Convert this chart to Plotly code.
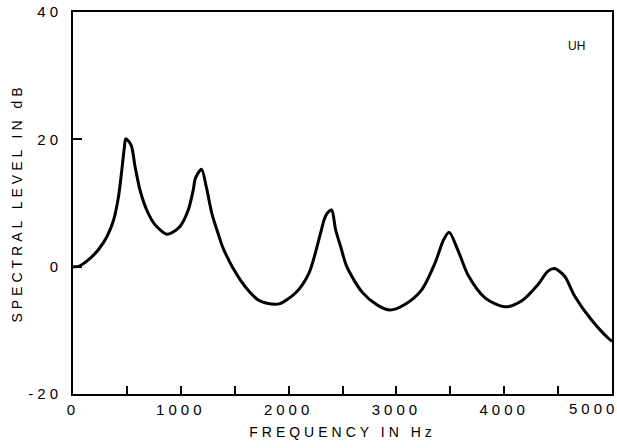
import plotly.graph_objects as go

# Smoothed spectrum of the vowel /UH/
freq_hz = [0, 52, 145, 237, 314, 376, 422, 453, 477, 490, 539, 576, 622, 684,
           760, 868, 915, 992, 1069, 1115, 1136, 1192, 1238, 1289, 1346, 1388,
           1438, 1481, 1561, 1635, 1715, 1789, 1912, 2066, 2189, 2297, 2328,
           2358, 2399, 2436, 2482, 2540, 2682, 2820, 2940, 3082, 3236, 3359,
           3437, 3489, 3575, 3667, 3822, 4006, 4160, 4314, 4406, 4468, 4561,
           4653, 4807, 4976, 5000]
level_db = [0, 0.05, 1.1, 2.7, 4.7, 7.3, 11.0, 15.2, 18.8, 20.1, 19.1, 15.7,
            12.0, 8.9, 6.6, 5.1, 5.3, 6.3, 8.9, 12.0, 13.9, 15.3, 12.4, 8.3,
            5.2, 3.1, 1.25, -0.15, -2.3, -3.9, -5.2, -5.7, -5.85, -4.1, -1.0,
            5.3, 7.3, 8.4, 8.9, 5.8, 3.2, 0.0, -4.0, -6.0, -6.8, -5.9, -3.6,
            0.6, 4.2, 5.4, 2.4, -1.4, -4.9, -6.3, -5.4, -2.8, -0.7, -0.3, -1.5,
            -4.6, -8.3, -11.4, -11.7]

x_tick_vals = [0, 500, 1000, 1500, 2000, 2500, 3000, 3500, 4000, 4500, 5000]
x_tick_text = ["0", "", "1000", "", "2000", "", "3000", "", "4000", "", ""]
y_tick_vals = [-20, 0, 20, 40]
y_tick_text = ["-20", "0", "20", "40"]

FONT = "Liberation Sans, Arial, Helvetica, sans-serif"

fig = go.Figure()
fig.add_trace(go.Scatter(
    x=freq_hz, y=level_db, mode="lines",
    line=dict(color="black", width=3, shape="spline", smoothing=0.8),
    hoverinfo="skip", showlegend=False,
))

fig.update_layout(
    width=617, height=448,
    margin=dict(l=73, r=3, t=11, b=54),
    paper_bgcolor="white", plot_bgcolor="white",
    font=dict(family=FONT, color="black", size=15),
    xaxis=dict(
        range=[0, 5000], showgrid=False, zeroline=False,
        showline=True, linecolor="black", linewidth=2, mirror=True,
        ticks="inside", ticklen=8, tickwidth=1.5, tickcolor="black",
        tickvals=x_tick_vals, ticktext=x_tick_text,
        tickfont=dict(size=15), ticklabelstandoff=1,
        title=dict(text="FREQUENCY IN Hz", font=dict(size=14), standoff=10),
    ),
    yaxis=dict(
        range=[-20, 40], showgrid=False, zeroline=False,
        showline=True, linecolor="black", linewidth=2, mirror=True,
        ticks="inside", ticklen=9, tickwidth=1.5, tickcolor="black",
        tickvals=y_tick_vals, ticktext=y_tick_text,
        tickfont=dict(size=15), ticklabelstandoff=6,
        title=dict(text="SPECTRAL LEVEL IN dB", font=dict(size=14), standoff=14),
    ),
    annotations=[
        dict(x=5000, y=0, xref="x", yref="paper", text="5000",
             xanchor="right", yanchor="top", yshift=-4, showarrow=False,
             font=dict(size=15)),
        dict(x=0.935, y=0.911, xref="paper", yref="paper", text="UH",
             xanchor="center", yanchor="middle",
             showarrow=False, font=dict(size=12)),
    ],
)

# widen the lettering of the axis labels
spacing_css = """
var s = document.createElement('style');
s.textContent = '.xtick text, .ytick text, .xtitle, .ytitle, '
  + '.annotation[data-index="0"] text {letter-spacing: 4px;}';
document.head.appendChild(s);
"""

fig.write_html("out.html", post_script=spacing_css)
